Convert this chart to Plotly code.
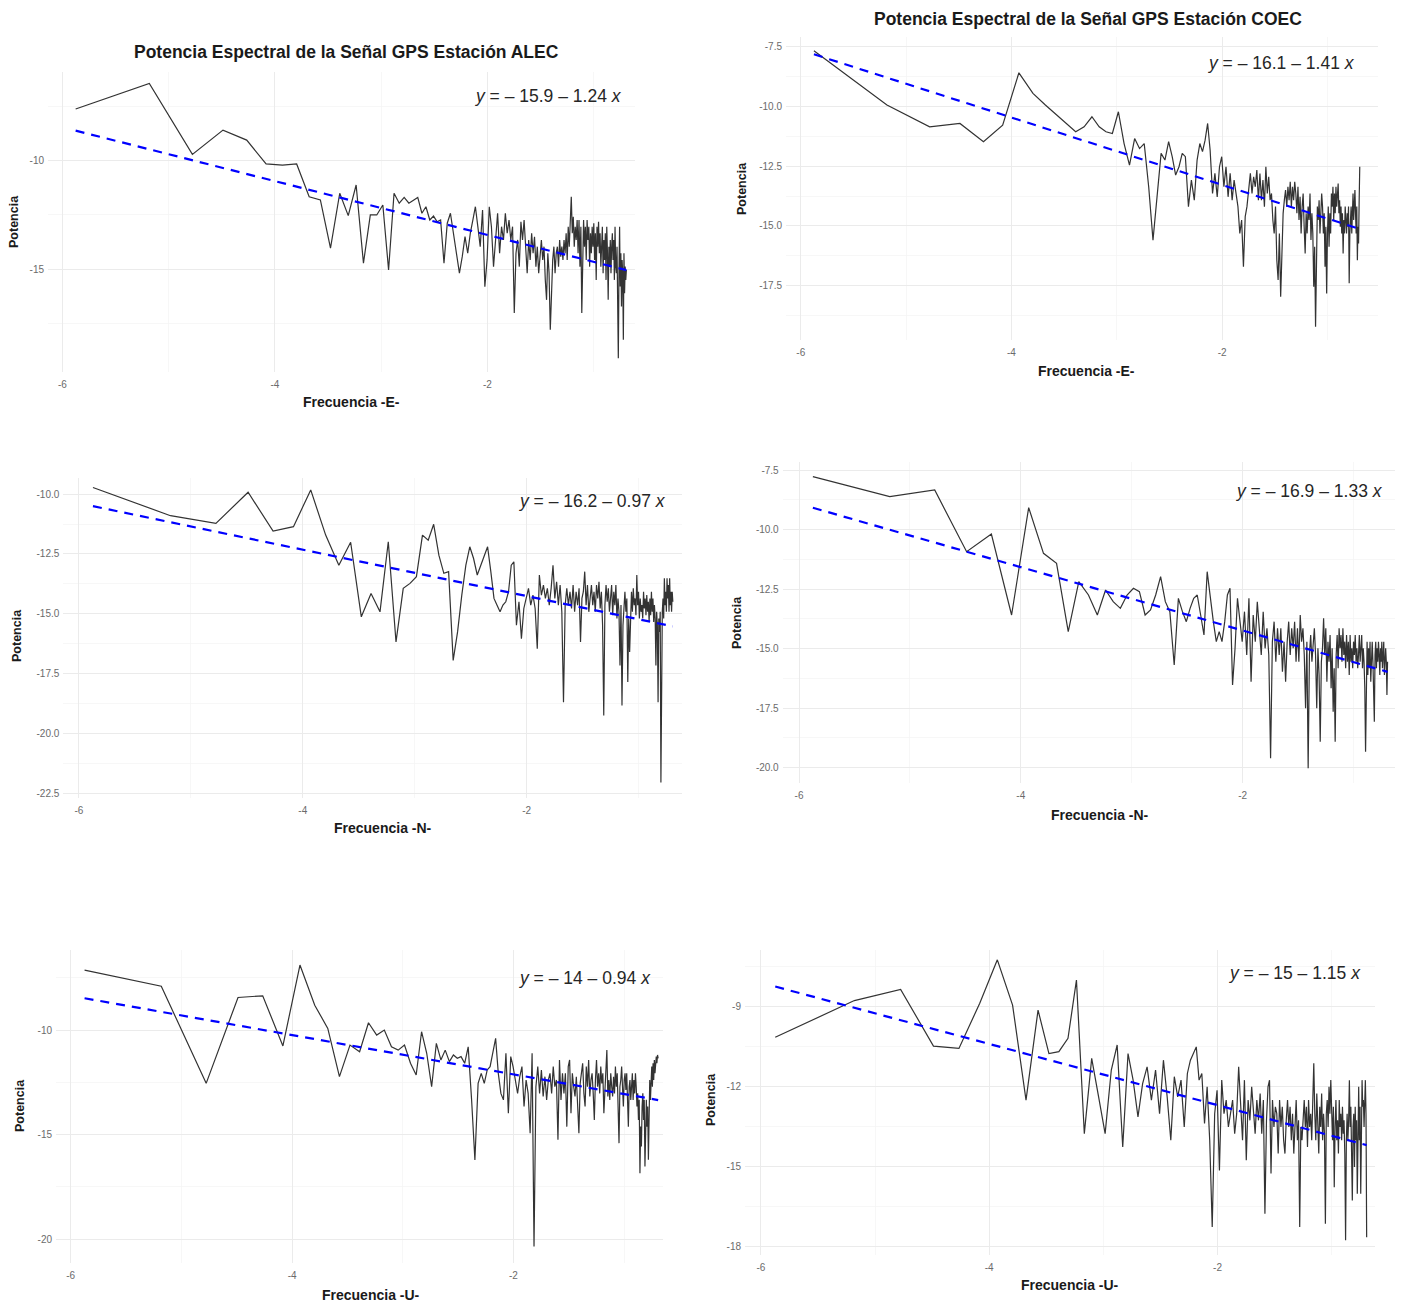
import numpy as np
import plotly.graph_objects as go

# ---------------- data ----------------
n_serie = 356                      # longitud de la serie (periodograma: k/N, k = 1..N/2)
indice_frecuencia = np.arange(1, 179)
log_frecuencia = np.log(indice_frecuencia / n_serie)

alec_e = [
    -7.62, -6.44, -9.71, -8.59, -9.05, -10.15, -10.20, -10.15, -11.66, -11.81,
    -14.03, -11.50, -12.53, -11.12, -14.72, -12.50, -12.50, -12.04, -15.03, -11.50,
    -11.96, -11.69, -11.96, -11.80, -11.69, -12.42, -12.12, -12.73, -12.55, -12.81,
    -12.73, -14.72, -12.88, -12.42, -13.34, -14.26, -15.18, -14.42, -13.50, -14.26,
    -13.34, -12.73, -12.12, -13.04, -13.96, -12.27, -15.80, -14.57, -12.12, -13.04,
    -14.88, -13.65, -12.42, -14.26, -13.04, -13.65, -12.42, -13.34, -12.73, -13.65,
    -13.04, -17.02, -14.26, -13.65, -14.88, -12.81, -13.65, -12.73, -13.96, -15.18,
    -13.65, -14.57, -13.34, -14.26, -13.50, -14.88, -13.96, -15.18, -14.42, -13.65,
    -14.57, -13.96, -15.49, -16.41, -14.26, -15.18, -17.79, -15.49, -14.57, -13.96,
    -15.18, -14.26, -13.96, -14.88, -13.65, -14.42, -13.96, -14.57, -13.65, -14.26,
    -13.34, -14.57, -13.04, -13.96, -13.04, -11.66, -13.34, -12.58, -13.96, -13.04,
    -13.65, -12.73, -14.26, -12.73, -14.88, -13.04, -17.02, -13.65, -12.73, -13.96,
    -13.04, -14.57, -12.73, -13.65, -13.04, -14.88, -13.34, -14.26, -13.04, -13.96,
    -12.88, -14.57, -13.34, -15.49, -13.04, -13.96, -12.81, -14.26, -13.34, -14.88,
    -13.65, -13.04, -15.18, -13.65, -14.57, -13.34, -15.49, -13.04, -14.26, -16.41,
    -13.96, -14.88, -13.65, -15.18, -13.96, -13.34, -14.57, -13.65, -15.49, -13.04,
    -14.88, -15.18, -13.96, -17.02, -19.10, -15.18, -13.04, -15.80, -14.26, -16.72,
    -14.57, -15.18, -18.25, -14.26, -16.10, -14.88, -15.49, -15.03,
]

coec_e = [
    -7.67, -9.94, -10.85, -10.71, -11.47, -10.78, -8.59, -9.45, -9.94, -10.36,
    -10.71, -11.06, -10.85, -10.43, -10.85, -11.06, -11.13, -10.22, -11.55, -12.45,
    -11.34, -11.76, -11.55, -13.36, -15.59, -13.64, -11.96, -12.24, -11.47, -12.10,
    -12.87, -12.52, -11.96, -12.10, -14.19, -13.08, -13.92, -12.24, -11.55, -11.89,
    -11.41, -10.71, -11.82, -13.64, -12.80, -13.78, -12.52, -12.10, -13.36, -12.52,
    -13.78, -12.80, -13.92, -13.08, -13.64, -14.19, -15.31, -14.75, -16.70, -14.61,
    -14.19, -13.36, -12.80, -13.64, -12.94, -13.36, -12.66, -13.92, -12.80, -13.92,
    -13.08, -14.19, -12.52, -13.64, -12.94, -13.92, -13.64, -14.75, -15.31, -14.19,
    -16.43, -17.26, -15.31, -17.96, -16.15, -14.47, -13.92, -13.50, -14.19, -13.36,
    -13.92, -13.15, -14.19, -13.36, -13.92, -13.15, -13.64, -14.47, -13.36, -14.75,
    -13.78, -15.31, -14.19, -13.64, -15.03, -16.15, -14.47, -15.31, -14.19, -14.75,
    -13.64, -15.59, -14.47, -15.31, -17.54, -15.87, -19.22, -15.31, -14.19, -14.75,
    -13.92, -15.31, -14.47, -13.64, -14.19, -15.31, -14.47, -16.70, -15.03, -17.82,
    -15.31, -14.19, -15.87, -14.47, -15.31, -13.64, -14.19, -13.36, -14.75, -13.64,
    -14.47, -13.36, -14.19, -13.64, -13.22, -14.47, -13.92, -15.03, -14.19, -15.31,
    -14.47, -16.15, -14.75, -15.31, -14.19, -14.75, -15.31, -14.47, -15.03, -14.19,
    -17.40, -15.31, -14.47, -14.19, -15.31, -13.92, -13.64, -14.75, -13.92, -13.50,
    -14.47, -15.31, -14.19, -16.43, -15.03, -15.73, -13.92, -12.52,
]

alec_n = [
    -9.72, -10.90, -11.22, -9.92, -11.54, -11.36, -9.82, -11.71, -12.97, -12.01,
    -15.13, -14.15, -14.92, -11.99, -16.18, -13.94, -13.73, -13.45, -11.71, -11.92,
    -11.26, -12.55, -13.31, -13.24, -16.95, -15.76, -14.22, -12.97, -12.20, -12.69,
    -13.38, -12.97, -12.55, -12.20, -13.24, -14.36, -14.64, -14.92, -14.64, -14.50,
    -14.08, -12.97, -12.83, -15.48, -14.50, -16.04, -14.78, -14.36, -13.94, -14.64,
    -14.22, -14.78, -16.46, -13.38, -14.22, -13.80, -14.36, -13.94, -14.64, -13.94,
    -12.97, -14.36, -13.66, -14.64, -13.80, -14.92, -18.70, -14.64, -13.94, -14.64,
    -14.08, -14.78, -13.80, -14.92, -14.08, -14.64, -13.94, -16.18, -14.36, -14.08,
    -13.24, -14.64, -13.80, -14.92, -14.36, -13.80, -14.64, -14.08, -14.92, -13.80,
    -14.36, -13.66, -14.78, -14.08, -15.48, -19.26, -14.64, -13.80, -14.50, -13.94,
    -14.92, -14.22, -13.80, -15.06, -14.08, -14.64, -13.80, -15.20, -14.36, -14.92,
    -17.16, -14.64, -18.84, -15.48, -14.64, -14.08, -14.92, -14.36, -17.86, -15.20,
    -16.60, -14.64, -14.08, -14.92, -13.94, -14.64, -14.36, -15.06, -13.38, -14.64,
    -14.08, -15.20, -14.36, -14.92, -14.64, -15.20, -14.08, -14.78, -14.36, -15.06,
    -14.22, -14.92, -14.50, -15.34, -14.36, -15.06, -14.08, -14.92, -14.36, -15.34,
    -14.64, -15.20, -17.16, -14.92, -15.48, -18.70, -15.20, -15.76, -14.92, -22.06,
    -16.04, -14.92, -14.36, -15.20, -13.52, -14.64, -14.08, -14.92, -13.52, -14.36,
    -13.80, -14.92, -13.52, -14.64, -14.08, -14.92, -14.08, -14.50,
]

coec_n = [
    -7.78, -8.62, -8.34, -10.93, -10.19, -13.59, -9.08, -11.00, -11.42, -14.29,
    -12.19, -12.75, -13.59, -12.54, -13.03, -13.31, -12.75, -12.47, -12.61, -13.59,
    -13.38, -12.75, -11.98, -13.03, -13.45, -15.69, -12.89, -13.45, -13.87, -13.31,
    -12.89, -12.75, -13.59, -14.43, -11.77, -12.89, -13.87, -14.71, -14.29, -14.71,
    -13.87, -12.75, -12.47, -16.53, -14.99, -12.89, -13.87, -14.71, -13.45, -15.27,
    -12.89, -16.39, -13.59, -14.71, -13.03, -14.15, -15.27, -13.45, -14.99, -14.15,
    -15.27, -19.61, -14.71, -13.87, -15.55, -14.15, -15.27, -14.15, -15.97, -14.71,
    -16.39, -14.71, -13.87, -15.27, -14.15, -14.99, -13.87, -15.55, -14.15, -15.55,
    -13.59, -14.71, -14.15, -15.27, -17.51, -14.71, -20.03, -15.27, -14.43, -15.55,
    -14.99, -14.15, -15.27, -17.51, -14.99, -16.11, -18.91, -15.55, -14.99, -13.73,
    -15.27, -14.15, -16.39, -14.71, -15.55, -14.43, -16.67, -14.99, -17.65, -15.83,
    -18.91, -15.27, -14.43, -15.83, -14.15, -14.99, -14.43, -15.55, -14.15, -15.27,
    -14.71, -15.83, -14.43, -15.55, -14.71, -16.11, -14.43, -15.55, -14.99, -15.83,
    -14.71, -15.27, -14.43, -15.55, -14.99, -15.83, -15.27, -14.43, -15.55, -14.99,
    -14.43, -15.83, -14.99, -15.55, -16.67, -19.33, -15.27, -14.71, -16.11, -14.99,
    -15.83, -14.71, -16.39, -15.27, -14.71, -15.55, -16.67, -18.07, -15.27, -14.71,
    -15.83, -14.99, -15.55, -14.71, -15.27, -16.11, -14.99, -15.55, -14.71, -15.83,
    -15.27, -14.71, -16.11, -15.27, -14.99, -15.55, -16.95, -15.55,
]

alec_u = [
    -7.13, -7.90, -12.55, -8.44, -8.36, -10.76, -6.89, -8.81, -9.92, -12.23,
    -10.72, -11.04, -9.65, -10.24, -10.00, -10.80, -10.96, -10.72, -11.59, -12.15,
    -10.08, -11.11, -12.71, -10.64, -11.43, -10.96, -11.51, -11.19, -11.35, -11.27,
    -11.59, -10.80, -13.34, -16.21, -12.55, -12.07, -12.55, -11.91, -11.75, -10.96,
    -10.40, -12.07, -13.03, -13.34, -11.11, -13.98, -11.27, -11.75, -12.39, -13.03,
    -12.23, -11.75, -13.66, -12.39, -13.03, -14.94, -11.11, -20.35, -12.71, -11.75,
    -13.03, -11.91, -13.18, -12.23, -13.34, -12.39, -12.07, -13.03, -11.75, -12.71,
    -12.39, -15.25, -11.43, -13.34, -12.07, -13.03, -12.07, -14.62, -11.75, -11.43,
    -13.98, -12.07, -12.71, -13.18, -12.23, -13.34, -14.94, -12.55, -12.07, -11.59,
    -13.03, -13.66, -11.75, -12.71, -11.43, -13.18, -12.39, -12.07, -13.03, -14.30,
    -12.39, -11.43, -12.71, -12.07, -13.03, -11.75, -12.55, -12.07, -13.98, -12.71,
    -11.75, -10.96, -13.18, -12.39, -13.34, -12.07, -12.71, -13.18, -12.23, -13.03,
    -11.75, -12.71, -12.07, -13.34, -15.41, -12.71, -12.39, -11.75, -13.03, -13.66,
    -12.39, -12.07, -12.87, -12.07, -13.34, -14.62, -12.71, -12.39, -13.34, -12.71,
    -12.07, -13.34, -12.39, -13.03, -12.07, -12.71, -13.66, -13.03, -14.30, -13.34,
    -16.85, -14.62, -15.57, -13.66, -13.03, -14.30, -13.34, -16.53, -13.98, -13.34,
    -14.62, -13.66, -16.21, -13.03, -12.39, -13.34, -12.07, -11.75, -12.71, -11.59,
    -12.39, -11.43, -12.07, -11.75, -11.27, -11.59, -11.19, -11.35,
]

coec_u = [
    -10.15, -8.77, -8.35, -10.48, -10.57, -8.87, -7.24, -8.94, -12.51, -9.13,
    -10.76, -10.69, -10.19, -8.00, -13.77, -10.94, -12.39, -13.77, -11.38, -10.44,
    -14.27, -10.76, -11.76, -13.14, -11.89, -11.26, -12.51, -11.38, -13.02, -11.01,
    -12.39, -14.02, -11.63, -12.39, -11.76, -13.52, -11.51, -11.01, -10.76, -10.51,
    -11.76, -11.51, -13.39, -12.01, -14.02, -17.28, -13.02, -12.14, -15.15, -11.76,
    -13.02, -12.51, -13.52, -13.02, -12.51, -13.77, -13.02, -11.26, -12.76, -14.02,
    -11.76, -14.77, -12.51, -13.27, -12.01, -12.76, -13.77, -12.51, -13.27, -12.26,
    -13.77, -12.51, -16.78, -13.27, -12.01, -11.76, -15.27, -12.51, -13.52, -12.76,
    -13.02, -14.52, -12.51, -13.52, -12.76, -14.02, -14.52, -13.27, -12.51, -13.52,
    -12.76, -14.02, -13.02, -14.52, -13.27, -12.51, -14.02, -13.27, -17.28, -13.52,
    -14.02, -13.02, -12.51, -13.52, -12.76, -14.27, -12.51, -13.52, -13.02, -14.02,
    -12.51, -11.13, -13.02, -14.02, -12.26, -13.52, -14.52, -12.76, -13.52, -12.26,
    -14.02, -13.02, -13.77, -17.16, -13.02, -12.51, -13.52, -12.01, -13.02, -11.76,
    -13.52, -14.02, -12.76, -15.78, -13.52, -12.51, -14.02, -13.27, -14.52, -12.51,
    -13.52, -13.02, -14.02, -12.76, -13.77, -13.27, -14.52, -17.78, -14.02, -13.02,
    -14.02, -13.27, -11.76, -13.52, -12.76, -14.27, -16.28, -13.52, -13.02, -15.02,
    -12.76, -14.02, -13.27, -16.03, -13.02, -12.01, -14.02, -12.76, -16.03, -13.52,
    -11.76, -12.76, -12.51, -13.52, -12.01, -11.76, -13.02, -17.66,
]

series = [alec_e, coec_e, alec_n, coec_n, alec_u, coec_u]
intercepto = [-15.9, -16.1, -16.2, -16.9, -14, -15]
pendiente = [-1.24, -1.41, -0.97, -1.33, -0.94, -1.15]
componente = ["E", "E", "N", "N", "U", "U"]
titulos = ["Potencia Espectral de la Señal GPS Estación ALEC",
           "Potencia Espectral de la Señal GPS Estación COEC",
           None, None, None, None]
xticks = [-6, -4, -2]
xminor = [-5, -3, -1]
yticks = [[-10, -15], [-7.5, -10, -12.5, -15, -17.5], [-10, -12.5, -15, -17.5, -20, -22.5],
          [-7.5, -10, -12.5, -15, -17.5, -20], [-10, -15, -20], [-9, -12, -15, -18]]
ytick_text = [["-10", "-15"], ["-7.5", "-10.0", "-12.5", "-15.0", "-17.5"],
              ["-10.0", "-12.5", "-15.0", "-17.5", "-20.0", "-22.5"],
              ["-7.5", "-10.0", "-12.5", "-15.0", "-17.5", "-20.0"],
              ["-10", "-15", "-20"], ["-9", "-12", "-15", "-18"]]
yminor = [[-7.5, -12.5, -17.5], [-8.75, -11.25, -13.75, -16.25, -18.75],
          [-11.25, -13.75, -16.25, -18.75, -21.25],
          [-8.75, -11.25, -13.75, -16.25, -18.75],
          [-7.5, -12.5, -17.5], [-7.5, -10.5, -13.5, -16.5]]

for s in series:
    assert len(s) == len(indice_frecuencia), len(s)

# ---------------- layout (pixel geometry) ----------------
W, H = 1404, 1304
FONT = "Liberation Sans, Arial, sans-serif"

# plot box: left, top, right, bottom (px); axis ranges
cajas = [(48, 71.7, 635, 371.7), (786, 36.7, 1378, 340), (63.3, 477.7, 681.7, 798.3),
         (782.7, 461.7, 1395, 783.3), (56, 950, 662.7, 1262.7), (745, 950, 1375, 1255)]
xrangos = [(-6.135, -0.612), (-6.14, -0.52), (-6.14, -0.614),
           (-6.147, -0.626), (-6.133, -0.652), (-6.14, -0.62)]
yrangos = [(-19.72, -5.90), (-19.77, -7.08), (-22.72, -9.31),
           (-20.66, -7.15), (-21.13, -6.17), (-18.33, -6.87)]
pos_titulo = [(346, 52), (1088, 19), None, None, None, None]
pos_xtit = [(351, 402), (1086, 371), (383, 828), (1100, 815), (371, 1295), (1070, 1285)]
pos_ytit = [(14, 222), (742, 189), (17, 636), (737, 622), (20, 1106), (711, 1100)]
pos_ecu = [(624, 96), (1357, 63), (668, 501), (1385, 491), (653, 978), (1363, 973)]


def fx(px):
    return px / W


def fy(py):
    return 1 - py / H


fig = go.Figure()
anots = []
layout_axes = {}

for i in range(6):
    n = i + 1
    xa = "x" if n == 1 else f"x{n}"
    ya = "y" if n == 1 else f"y{n}"
    xkey = "xaxis" if n == 1 else f"xaxis{n}"
    ykey = "yaxis" if n == 1 else f"yaxis{n}"
    l, t, r, b = cajas[i]

    fig.add_trace(go.Scatter(
        x=log_frecuencia, y=series[i], mode="lines", xaxis=xa, yaxis=ya,
        line=dict(color="#333333", width=1.2), showlegend=False, hoverinfo="skip"))

    x_fit = [log_frecuencia[0], log_frecuencia[-1]]
    y_fit = [intercepto[i] + pendiente[i] * v for v in x_fit]
    fig.add_trace(go.Scatter(
        x=x_fit, y=y_fit, mode="lines", xaxis=xa, yaxis=ya,
        line=dict(color="#0000FF", width=2.2, dash="9px,7px"),
        showlegend=False, hoverinfo="skip"))

    layout_axes[xkey] = dict(
        domain=[fx(l), fx(r)], range=list(xrangos[i]), anchor=ya,
        tickvals=xticks, ticktext=[str(v) for v in xticks],
        showgrid=True, gridcolor="#EBEBEB", gridwidth=1,
        minor=dict(tickvals=xminor, showgrid=True, gridcolor="#F3F3F3", gridwidth=0.7),
        zeroline=False, showline=False, ticks="",
        tickfont=dict(family=FONT, size=10, color="#6b6b6b"),
        ticklabelstandoff=5, fixedrange=True)
    layout_axes[ykey] = dict(
        domain=[fy(b), fy(t)], range=list(yrangos[i]), anchor=xa,
        tickvals=yticks[i], ticktext=ytick_text[i],
        showgrid=True, gridcolor="#EBEBEB", gridwidth=1,
        minor=dict(tickvals=yminor[i], showgrid=True, gridcolor="#F3F3F3", gridwidth=0.7),
        zeroline=False, showline=False, ticks="",
        tickfont=dict(family=FONT, size=10, color="#6b6b6b"),
        ticklabelstandoff=3, fixedrange=True)

    if titulos[i]:
        px_, py_ = pos_titulo[i]
        anots.append(dict(text=f"<b>{titulos[i]}</b>", x=fx(px_), y=fy(py_),
                          xref="paper", yref="paper", xanchor="center", yanchor="middle",
                          showarrow=False, font=dict(family=FONT, size=17.5, color="#1a1a1a")))
    px_, py_ = pos_xtit[i]
    anots.append(dict(text=f"<b>Frecuencia -{componente[i]}-</b>", x=fx(px_), y=fy(py_),
                      xref="paper", yref="paper", xanchor="center", yanchor="middle",
                      showarrow=False, font=dict(family=FONT, size=14, color="#1a1a1a")))
    px_, py_ = pos_ytit[i]
    anots.append(dict(text="<b>Potencia</b>", x=fx(px_), y=fy(py_), textangle=-90,
                      xref="paper", yref="paper", xanchor="center", yanchor="middle",
                      showarrow=False, font=dict(family=FONT, size=12.5, color="#1a1a1a")))
    px_, py_ = pos_ecu[i]
    ecu = f"<i>y</i> = – {abs(intercepto[i]):g} – {abs(pendiente[i]):g} <i>x</i>"
    anots.append(dict(text=ecu, x=fx(px_), y=fy(py_),
                      xref="paper", yref="paper", xanchor="right", yanchor="middle",
                      showarrow=False, font=dict(family=FONT, size=17.5, color="#262626")))

fig.update_layout(
    width=W, height=H, margin=dict(l=0, r=0, t=0, b=0),
    paper_bgcolor="white", plot_bgcolor="white",
    annotations=anots, hovermode=False, **layout_axes)

fig.write_html("out.html", config={"displayModeBar": False, "staticPlot": True},
               post_script="document.body.style.margin='0';")
